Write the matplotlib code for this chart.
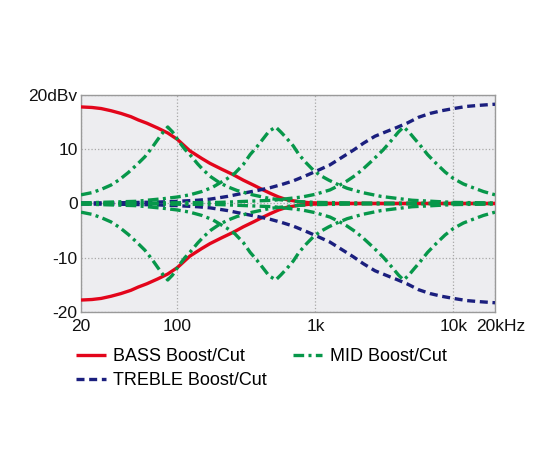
import numpy as np
import matplotlib.pyplot as plt
from matplotlib.transforms import ScaledTranslation

plt.rcParams['font.family'] = ['Liberation Sans', 'DejaVu Sans']

# values (boost curves, Hz / dB); cut curves are the mirror
bass_freq = [20, 24, 28, 33, 39, 46, 52, 60, 72, 85, 100, 123, 150, 172, 210, 254, 300, 355,
             410, 468, 540, 620, 750, 900, 1200, 2000, 20000]
bass_db = [17.8, 17.7, 17.5, 17.1, 16.6, 16.0, 15.4, 14.8, 13.9, 13.0, 11.8, 9.7, 8.3, 7.4,
           6.3, 5.3, 4.3, 3.4, 2.6, 1.9, 1.2, 0.7, 0.35, 0.15, 0.05, 0.0, 0.0]

treble_freq = [20, 40, 70, 100, 140, 172, 230, 300, 380, 468, 570, 687, 830, 1000, 1270, 1600,
               1900, 2223, 2700, 3300, 3875, 4600, 5600, 6760, 8200, 10000, 12500, 15500, 20000]
treble_db = [0.1, 0.15, 0.25, 0.4, 0.6, 0.8, 1.3, 1.9, 2.4, 2.9, 3.5, 4.15, 5.0, 5.9, 7.1, 8.7,
             9.9, 11.1, 12.4, 13.3, 14.0, 14.8, 15.9, 16.6, 17.1, 17.5, 17.9, 18.1, 18.3]

mid1_freq = [20, 24, 28, 33, 38, 44, 51, 58, 65, 72, 79, 85, 92, 102, 113, 125, 140, 155, 175,
             200, 230, 270, 350, 470, 700, 1000, 2000, 20000]
mid1_db = [1.6, 2.0, 2.6, 3.4, 4.4, 5.7, 7.2, 8.6, 10.2, 11.8, 13.2, 14.1, 13.2, 11.5, 10.0,
           8.8, 7.3, 6.1, 4.9, 3.9, 3.1, 2.4, 1.6, 0.9, 0.4, 0.2, 0.1, 0.0]

mid2_freq = [20, 50, 80, 100, 123, 150, 180, 203, 230, 261, 300, 336, 375, 420, 460, 515, 560,
             620, 691, 760, 863, 960, 1079, 1250, 1426, 1700, 2200, 3000, 5000, 10000, 20000]
mid2_db = [0.1, 0.4, 0.9, 1.2, 1.6, 2.2, 3.0, 3.8, 4.6, 5.6, 7.2, 9.0, 10.4, 12.0, 13.3, 14.1,
           13.2, 12.0, 10.6, 9.0, 7.4, 6.2, 5.2, 4.3, 3.6, 2.8, 2.0, 1.3, 0.6, 0.2, 0.1]

mid3_freq = [20, 200, 500, 800, 1000, 1274, 1500, 1680, 1950, 2223, 2600, 3100, 3600, 4000,
             4350, 4750, 5200, 5710, 6500, 7550, 8700, 10000, 11800, 13900, 16500, 20000]
mid3_db = [0.0, 0.2, 0.6, 1.2, 1.7, 2.5, 3.4, 4.1, 5.2, 6.4, 8.0, 9.9, 11.8, 13.2, 14.1, 13.2,
           12.0, 10.8, 9.0, 7.3, 5.8, 4.6, 3.6, 2.9, 2.2, 1.6]

x_ticks = [20, 100, 1000, 10000, 20000]
x_labels = ['20', '100', '1k', '10k', '20kHz']
y_ticks = [-20, -10, 0, 10, 20]
y_labels = ['-20', '-10', '0', '10', '20dBv']

red = '#e3051b'
navy = '#1b1f7e'
green = '#07974a'
lw = 2.4

fig = plt.figure(figsize=(5.5, 4.5), dpi=100)
ax = fig.add_axes([0.1473, 0.3067, 0.7527, 0.4822])
ax.set_facecolor('#ededf0')

for sign in (1, -1):
    ax.plot(bass_freq, sign * np.array(bass_db), color=red, lw=lw, solid_capstyle='butt',
            label='BASS Boost/Cut' if sign == 1 else None, zorder=3)
for sign in (1, -1):
    ax.plot(treble_freq, sign * np.array(treble_db), color=navy, lw=lw,
            linestyle=(0, (2.4, 1.4)), label='TREBLE Boost/Cut' if sign == 1 else None, zorder=4)
first = True
for f, d in [(mid1_freq, mid1_db), (mid2_freq, mid2_db), (mid3_freq, mid3_db)]:
    for sign in (1, -1):
        ax.plot(f, sign * np.array(d), color=green, lw=lw,
                linestyle=(0, (3.2, 1.3, 0.9, 1.3)),
                label='MID Boost/Cut' if first else None, zorder=5)
        first = False

ax.set_xscale('log')
ax.set_xlim(20, 20000)
ax.set_ylim(-20, 20)
ax.set_xticks(x_ticks)
ax.set_xticklabels(x_labels)
ax.minorticks_off()
ax.set_yticks(y_ticks)
ax.set_yticklabels(y_labels)
ax.tick_params(length=0, labelsize=12.5, colors='#111111')
ax.tick_params(axis='x', pad=5)
ax.tick_params(axis='y', pad=2.5)
ax.grid(True, linestyle=':', color='#a8a8a8', linewidth=0.9)
for s in ax.spines.values():
    s.set_color('#9a9a9a')
    s.set_linewidth(1.0)

# the 20kHz label sits a little right of its tick
last = ax.get_xticklabels()[-1]
last.set_transform(last.get_transform() + ScaledTranslation(4 / 72, 0, fig.dpi_scale_trans))

handles, labels = ax.get_legend_handles_labels()
fig.legend(handles, labels, loc='upper left', bbox_to_anchor=(0.121, 0.247), ncol=2,
           frameon=False, fontsize=13, handlelength=1.66, handletextpad=0.44,
           columnspacing=1.4, labelspacing=0.41, borderpad=0)

fig.savefig('out.png', dpi=100)
